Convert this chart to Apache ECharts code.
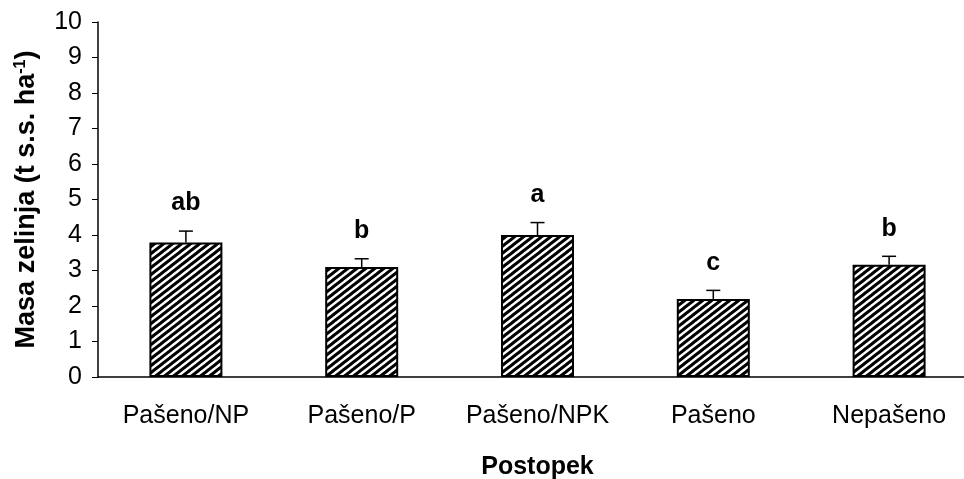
<!DOCTYPE html>
<html><head><meta charset="utf-8">
<script src="https://cdn.jsdelivr.net/npm/echarts@6/dist/echarts.min.js"></script>
<style>html,body{margin:0;padding:0;background:#fff}#c{width:964px;height:479px}</style>
</head><body><div id="c"></div>
<script>
var categories = ['Pašeno/NP', 'Pašeno/P', 'Pašeno/NPK', 'Pašeno', 'Nepašeno'];
var means = [3.79, 3.10, 4.00, 2.20, 3.16];
var errors = [0.32, 0.23, 0.35, 0.24, 0.24];
var letters = ['ab', 'b', 'a', 'c', 'b'];
var yTicks = [0, 1, 2, 3, 4, 5, 6, 7, 8, 9, 10];

function hatch() {
  var w = 9, h = 7;
  var c = document.createElement('canvas');
  c.width = w; c.height = h;
  var g = c.getContext('2d');
  g.fillStyle = '#fff'; g.fillRect(0, 0, w, h);
  g.strokeStyle = '#000'; g.lineWidth = 3;
  for (var k = -1; k <= 1; k++) {
    g.beginPath();
    g.moveTo(k * w - w / h, h + 1);
    g.lineTo(k * w + w + w / h, -1);
    g.stroke();
  }
  return c;
}

var chart = echarts.init(document.getElementById('c'));
var font = 'Liberation Sans, Arial, sans-serif';
chart.setOption({
  animation: false,
  grid: { left: 98, top: 22, height: 355, width: 879, containLabel: false, outerBoundsMode: 'none' },
  xAxis: {
    type: 'category', data: categories,
    name: 'Postopek', nameLocation: 'middle', nameGap: 78,
    nameTextStyle: { fontFamily: font, fontWeight: 'bold', fontSize: 25, color: '#000' },
    axisLine: { lineStyle: { color: '#000', width: 1.5 } },
    axisTick: { alignWithLabel: false, length: 6, lineStyle: { color: '#555' } },
    axisLabel: { fontFamily: font, fontSize: 25, color: '#000', margin: 27, interval: 0 }
  },
  yAxis: {
    type: 'value', min: yTicks[0], max: yTicks[yTicks.length - 1], interval: 1,
    name: 'Masa zelinja (t s.s. ha{sup|-1})', nameLocation: 'middle', nameGap: 57,
    nameTextStyle: { fontFamily: font, fontWeight: 'bold', fontSize: 27, color: '#000',
      rich: { sup: { fontFamily: font, fontWeight: 'bold', fontSize: 16, verticalAlign: 'top', padding: [0,0,12,0] } } },
    splitLine: { show: false },
    axisLine: { show: true, lineStyle: { color: '#000', width: 1.5 } },
    axisTick: { show: true, length: 6, lineStyle: { color: '#000' } },
    axisLabel: { fontFamily: font, fontSize: 25, color: '#000', margin: 16 }
  },
  series: [
    {
      type: 'bar', data: means, barWidth: 73,
      itemStyle: { color: { image: hatch(), repeat: 'repeat' }, borderColor: '#000', borderWidth: 2 }
    },
    {
      type: 'custom',
      data: means.map(function (m, i) { return [i, m, errors[i]]; }),
      renderItem: function (params, api) {
        var i = api.value(0), m = api.value(1), e = api.value(2);
        var p0 = api.coord([i, m]);
        var p1 = api.coord([i, m + e]);
        var hw = 7;
        return {
          type: 'group',
          children: [
            { type: 'line', shape: { x1: p0[0], y1: p0[1], x2: p1[0], y2: p1[1] }, style: { stroke: '#000', lineWidth: 1.5 } },
            { type: 'line', shape: { x1: p1[0] - hw, y1: p1[1], x2: p1[0] + hw, y2: p1[1] }, style: { stroke: '#000', lineWidth: 1.5 } },
            { type: 'text', x: p1[0], y: p1[1] - 15, style: { text: letters[params.dataIndex], fill: '#000',
              font: 'bold 25px Liberation Sans, Arial, sans-serif', align: 'center', verticalAlign: 'bottom' } }
          ]
        };
      },
      z: 5
    }
  ]
});
</script></body></html>
